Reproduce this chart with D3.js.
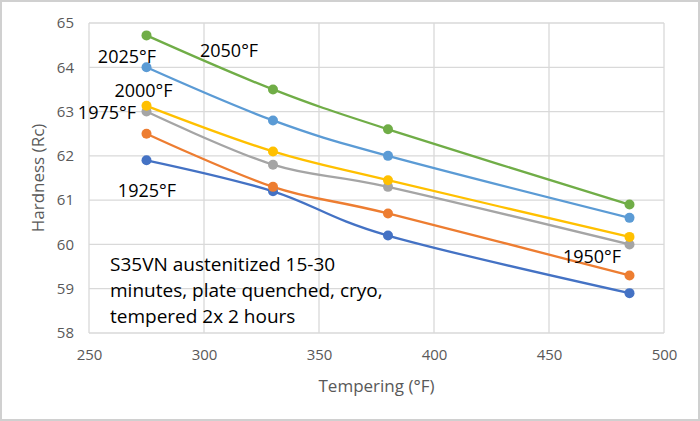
<!DOCTYPE html>
<html><head><meta charset="utf-8">
<script src="https://cdn.jsdelivr.net/npm/d3@7"></script>
<style>
html,body{margin:0;padding:0;background:#fff;}
svg{display:block;font-family:"Open Sans",sans-serif;}
</style></head>
<body><svg id="chart" width="700" height="421"></svg>
<script>
const temperingF = [275, 330, 380, 485];
const seriesNames = ["1925°F", "1950°F", "1975°F", "2000°F", "2025°F", "2050°F"];
const s1925 = [61.9, 61.2, 60.2, 58.9];
const s1950 = [62.5, 61.3, 60.7, 59.3];
const s1975 = [63.0, 61.8, 61.3, 60.0];
const s2000 = [63.13, 62.1, 61.45, 60.17];
const s2025 = [64.0, 62.8, 62.0, 60.6];
const s2050 = [64.72, 63.5, 62.6, 60.9];
const xTicks = [250, 300, 350, 400, 450, 500];
const yTicks = [58, 59, 60, 61, 62, 63, 64, 65];
const noteLines = ["S35VN austenitized 15-30", "minutes, plate quenched, cryo,", "tempered 2x 2 hours"];

const colors = ["#4472C4", "#ED7D31", "#A5A5A5", "#FFC000", "#5B9BD5", "#70AD47"];
const allSeries = [s1925, s1950, s1975, s2000, s2025, s2050];
// label anchor (baseline centre): [x data, y data]
const labelPos = [[275.2, 61.07], [468.7, 59.58], [257.8, 62.83], [273.7, 63.33], [266.5, 64.10], [310.9, 64.23]];

const svg = d3.select("#chart");
svg.append("rect").attr("x", 1).attr("y", 1).attr("width", 698).attr("height", 419)
  .attr("fill", "#fff").attr("stroke", "#d0d0d0").attr("stroke-width", 2);

const x = d3.scaleLinear().domain([250, 500]).range([89, 664]);
const y = d3.scaleLinear().domain([58, 65]).range([333, 23]);

const g = svg.append("g");
g.selectAll("line.vg").data(xTicks).join("line")
  .attr("x1", d => x(d)).attr("x2", d => x(d)).attr("y1", y(58)).attr("y2", y(65))
  .attr("stroke", "#d9d9d9").attr("stroke-width", 1.3);
g.selectAll("line.hg").data(yTicks).join("line")
  .attr("x1", x(250)).attr("x2", x(500)).attr("y1", d => y(d)).attr("y2", d => y(d))
  .attr("stroke", "#d9d9d9").attr("stroke-width", 1.3);

const xAxis = d3.axisBottom(x).tickValues(xTicks).tickSize(0).tickPadding(16).tickFormat(d3.format("d"));
const yAxis = d3.axisLeft(y).tickValues(yTicks).tickSize(0).tickPadding(15).tickFormat(d3.format("d"));
const gx = svg.append("g").attr("transform", `translate(0,${y(58)})`).call(xAxis);
const gy = svg.append("g").attr("transform", `translate(${x(250)},0)`).call(yAxis);
[gx, gy].forEach(a => {
  a.select(".domain").remove();
  a.selectAll("text").attr("fill", "#595959").attr("font-size", 15).attr("font-family", "Open Sans");
});

svg.append("text").attr("x", (x(250) + x(500)) / 2).attr("y", 392)
  .attr("text-anchor", "middle").attr("font-size", 17).attr("fill", "#595959").text("Tempering (°F)");
svg.append("text").attr("transform", `translate(44,${(y(58) + y(65)) / 2}) rotate(-90)`)
  .attr("text-anchor", "middle").attr("font-size", 17).attr("fill", "#595959").text("Hardness (Rc)");

const line = d3.line().x((d, i) => x(temperingF[i])).y(d => y(d)).curve(d3.curveCatmullRom.alpha(0));
allSeries.forEach((s, k) => {
  g.append("path").datum(s).attr("d", line).attr("fill", "none")
    .attr("stroke", colors[k]).attr("stroke-width", 2.3);
});
allSeries.forEach((s, k) => {
  g.selectAll(null).data(s).join("circle")
    .attr("cx", (d, i) => x(temperingF[i])).attr("cy", d => y(d)).attr("r", 5)
    .attr("fill", colors[k]);
});

seriesNames.forEach((n, k) => {
  svg.append("text").attr("x", x(labelPos[k][0])).attr("y", y(labelPos[k][1]))
    .attr("text-anchor", "middle").attr("font-size", 18).attr("fill", "#000").text(n);
});

svg.append("g").selectAll("text").data(noteLines).join("text")
  .attr("x", 110).attr("y", (d, i) => 271 + i * 26)
  .attr("font-size", 19).attr("fill", "#000").text(d => d);
</script></body></html>
